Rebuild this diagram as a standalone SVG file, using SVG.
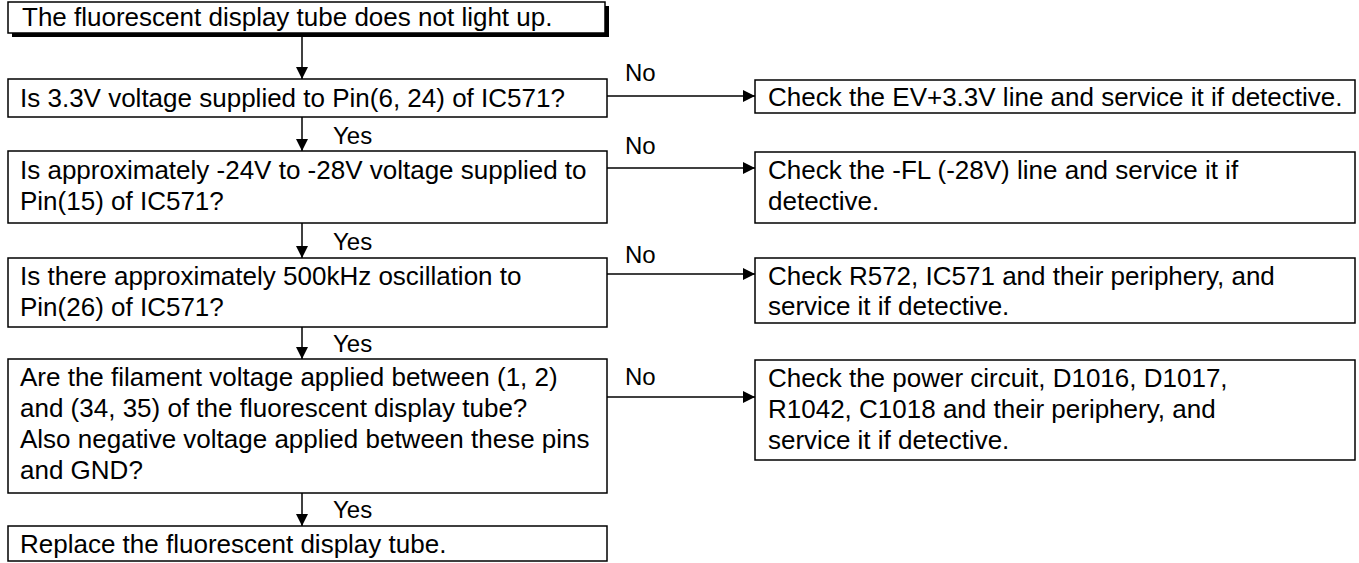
<svg xmlns="http://www.w3.org/2000/svg" width="1359" height="563" viewBox="0 0 1359 563">
<style>
.box{fill:#fff;stroke:#000;stroke-width:1.5}
.t{font-family:"Liberation Sans",Arial,sans-serif;font-size:26px;fill:#000}
.lbl{font-family:"Liberation Sans",Arial,sans-serif;font-size:24px;fill:#000}
.ln{stroke:#000;stroke-width:1.5;fill:none}
</style>
<defs>
<marker id="ah" viewBox="0 0 12 12" refX="12" refY="6" markerWidth="12" markerHeight="12" markerUnits="userSpaceOnUse" orient="auto">
<path d="M0,0 L12,6 L0,12 Z" fill="#000"/>
</marker>
</defs>
<rect width="1359" height="563" fill="#fff"/>
<g id="connectors">
<line class="ln" x1="302" y1="33" x2="302" y2="79" marker-end="url(#ah)"/>
<line class="ln" x1="302" y1="117" x2="302" y2="151" marker-end="url(#ah)"/>
<line class="ln" x1="302" y1="223" x2="302" y2="258" marker-end="url(#ah)"/>
<line class="ln" x1="302" y1="327" x2="302" y2="359" marker-end="url(#ah)"/>
<line class="ln" x1="302" y1="493" x2="302" y2="526" marker-end="url(#ah)"/>
<line class="ln" x1="607" y1="96" x2="755" y2="96" marker-end="url(#ah)"/>
<line class="ln" x1="607" y1="168" x2="755" y2="168" marker-end="url(#ah)"/>
<line class="ln" x1="607" y1="274" x2="755" y2="274" marker-end="url(#ah)"/>
<line class="ln" x1="607" y1="397" x2="755" y2="397" marker-end="url(#ah)"/>
<text class="lbl" x="625" y="81">No</text>
<text class="lbl" x="625" y="154">No</text>
<text class="lbl" x="625" y="263">No</text>
<text class="lbl" x="625" y="385">No</text>
<text class="lbl" x="333" y="144">Yes</text>
<text class="lbl" x="333" y="250">Yes</text>
<text class="lbl" x="333" y="352">Yes</text>
<text class="lbl" x="333" y="518">Yes</text>
</g>
<g id="start">
<rect x="12" y="6" width="597" height="31" fill="#000"/>
<rect class="box" x="8" y="2" width="597" height="31"/>
<text class="t" x="22" y="26">The fluorescent display tube does not light up.</text>
</g>
<g id="q1">
<rect class="box" x="8" y="79" width="599" height="38"/>
<text class="t" x="20" y="107">Is 3.3V voltage supplied to Pin(6, 24) of IC571?</text>
</g>
<g id="a1">
<rect class="box" x="755" y="80" width="600" height="33"/>
<text class="t" x="768" y="106">Check the EV+3.3V line and service it if detective.</text>
</g>
<g id="q2">
<rect class="box" x="8" y="151" width="599" height="72"/>
<text class="t" x="20" y="179">Is approximately -24V to -28V voltage supplied to</text>
<text class="t" x="20" y="210">Pin(15) of IC571?</text>
</g>
<g id="a2">
<rect class="box" x="755" y="152" width="600" height="71"/>
<text class="t" x="768" y="179">Check the -FL (-28V) line and service it if</text>
<text class="t" x="768" y="210">detective.</text>
</g>
<g id="q3">
<rect class="box" x="8" y="258" width="599" height="69"/>
<text class="t" x="20" y="285">Is there approximately 500kHz oscillation to</text>
<text class="t" x="20" y="316">Pin(26) of IC571?</text>
</g>
<g id="a3">
<rect class="box" x="755" y="258" width="600" height="65"/>
<text class="t" x="768" y="285">Check R572, IC571 and their periphery, and</text>
<text class="t" x="768" y="315">service it if detective.</text>
</g>
<g id="q4">
<rect class="box" x="8" y="359" width="599" height="134"/>
<text class="t" x="20" y="386">Are the filament voltage applied between (1, 2)</text>
<text class="t" x="20" y="417">and (34, 35) of the fluorescent display tube?</text>
<text class="t" x="20" y="448">Also negative voltage applied between these pins</text>
<text class="t" x="20" y="479">and GND?</text>
</g>
<g id="a4">
<rect class="box" x="755" y="360" width="600" height="100"/>
<text class="t" x="768" y="387">Check the power circuit, D1016, D1017,</text>
<text class="t" x="768" y="418">R1042, C1018 and their periphery, and</text>
<text class="t" x="768" y="449">service it if detective.</text>
</g>
<g id="end">
<rect class="box" x="8" y="526" width="599" height="35"/>
<text class="t" x="20" y="553">Replace the fluorescent display tube.</text>
</g>
</svg>
